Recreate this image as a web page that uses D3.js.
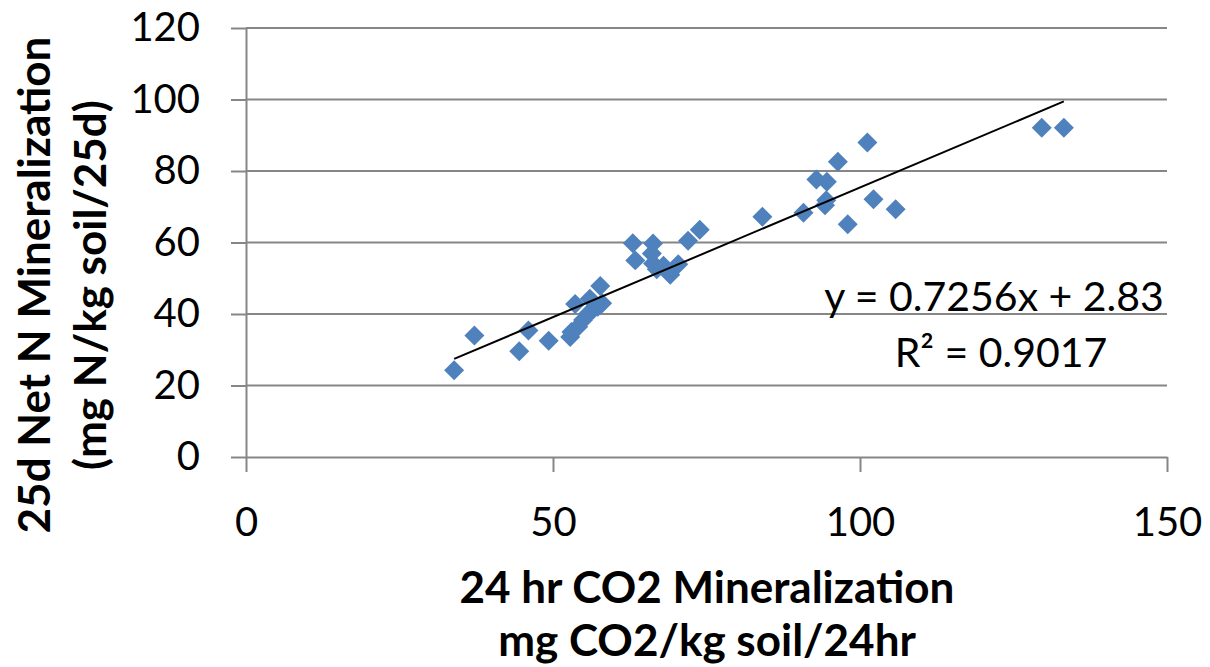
<!DOCTYPE html>
<html>
<head>
<meta charset="utf-8">
<script src="https://cdn.jsdelivr.net/npm/d3@7"></script>
<style>
  body { margin: 0; background: #fff; }
  svg { display: block; font-family: Lato, "Open Sans", sans-serif; }
</style>
</head>
<body>
<div id="chart"></div>
<script>
// values
var co2 = [33.9, 37.2, 44.5, 46.0, 49.3, 52.8, 53.0, 54.1, 54.9, 55.8, 56.5, 57.3, 58.0, 56.0, 53.6, 57.7,
           63.0, 63.4, 66.3, 66.1, 66.3, 66.9, 68.0, 69.1, 70.4, 72.0, 73.9,
           84.1, 90.8, 92.9, 94.6, 94.5, 94.3, 96.4, 98.0, 101.2, 102.2, 105.8, 129.6, 133.2];
var netN = [24.3, 34.0, 29.6, 35.4, 32.5, 33.6, 35.0, 36.4, 38.3, 40.2, 41.2, 42.0, 43.0, 44.3, 42.8, 47.8,
            59.8, 55.0, 59.7, 56.9, 54.1, 52.5, 53.5, 51.0, 53.9, 60.5, 63.6,
            67.2, 68.3, 77.6, 77.0, 71.8, 70.4, 82.6, 65.1, 88.0, 72.1, 69.3, 92.1, 92.1];
var xTicks = [0, 50, 100, 150];
var yTicks = [0, 20, 40, 60, 80, 100, 120];
var slope = 0.7256, intercept = 2.83;
var eqLabel = "y = 0.7256x + 2.83";
var r2Label = "R² = 0.9017";
var xTitle = ["24 hr CO2 Mineralization", "mg CO2/kg soil/24hr"];
var yTitle = ["25d Net N Mineralization", "(mg N/kg soil/25d)"];

const W = 1210, H = 667;
const gridColor = "#868686";
const markerColor = "#4F81BD";

var svg = d3.select("#chart").append("svg")
	.attr("width", W)
	.attr("height", H);

var x = d3.scaleLinear().domain([0, 150]).range([246, 1167]);
var y = d3.scaleLinear().domain([0, 120]).range([457, 28]);

// gridlines
svg.append("g")
	.selectAll("line")
	.data(yTicks.slice(1))
	.join("line")
	.attr("x1", x(0)).attr("x2", x(150))
	.attr("y1", d => y(d)).attr("y2", d => y(d))
	.attr("stroke", gridColor)
	.attr("stroke-width", 2);

// y axis
var yAxis = svg.append("g")
	.attr("transform", `translate(${x(0)},0)`)
	.call(d3.axisLeft(y).tickValues(yTicks).tickSize(15).tickPadding(31).tickSizeOuter(0));
yAxis.select(".domain").attr("stroke", gridColor).attr("stroke-width", 2);
yAxis.selectAll(".tick line").attr("stroke", gridColor).attr("stroke-width", 2);
yAxis.selectAll(".tick text")
	.attr("fill", "#000")
	.style("font-size", "40px")
	.style("font-family", "Lato");

// x axis
var xAxis = svg.append("g")
	.attr("transform", `translate(0,${y(0)})`)
	.call(d3.axisBottom(x).tickValues(xTicks).tickSize(15).tickPadding(36).tickSizeOuter(0));
xAxis.select(".domain").attr("stroke", gridColor).attr("stroke-width", 2);
xAxis.selectAll(".tick line").attr("stroke", gridColor).attr("stroke-width", 2);
xAxis.selectAll(".tick text")
	.attr("fill", "#000")
	.style("font-size", "40px")
	.style("font-family", "Lato");

// markers
var diamond = d3.symbol().type(d3.symbolSquare).size(200);
svg.append("g")
	.selectAll("path")
	.data(co2.map((v, i) => [v, netN[i]]))
	.join("path")
	.attr("d", diamond)
	.attr("transform", d => `translate(${x(d[0])},${y(d[1])}) rotate(45)`)
	.attr("fill", markerColor);

// trendline
var xMin = d3.min(co2), xMax = d3.max(co2);
svg.append("line")
	.attr("x1", x(xMin)).attr("y1", y(slope * xMin + intercept))
	.attr("x2", x(xMax)).attr("y2", y(slope * xMax + intercept))
	.attr("stroke", "#000")
	.attr("stroke-width", 2);

// equation label
svg.append("text")
	.attr("x", 994).attr("y", 311)
	.attr("text-anchor", "middle")
	.style("font-size", "41px")
	.text(eqLabel);
svg.append("text")
	.attr("x", 1001).attr("y", 367)
	.attr("text-anchor", "middle")
	.style("font-size", "41px")
	.text(r2Label);

// axis titles
svg.append("g")
	.selectAll("text")
	.data(xTitle)
	.join("text")
	.attr("x", 707)
	.attr("y", (d, i) => 603 + i * 53)
	.attr("text-anchor", "middle")
	.style("font-size", "44px")
	.style("font-weight", "bold")
	.text(d => d);

svg.append("g")
	.selectAll("text")
	.data(yTitle)
	.join("text")
	.attr("transform", (d, i) => `translate(${50 + i * 56},285) rotate(-90)`)
	.attr("text-anchor", "middle")
	.style("font-size", "44px")
	.style("font-weight", "bold")
	.text(d => d);
</script>
</body>
</html>
